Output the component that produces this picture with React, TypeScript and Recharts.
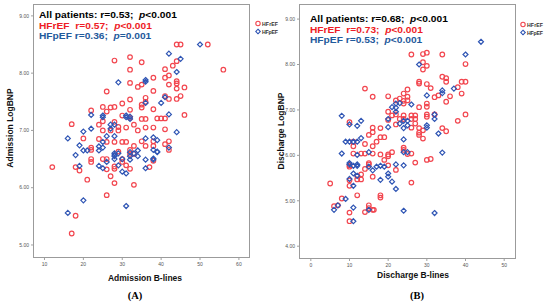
import React from 'react';
import { ScatterChart, Scatter, XAxis, YAxis } from 'recharts';

// ---- Panel A: Admission ----
const admissionHFrEF: number[][] = [
  [12,6.36],[17,7.11],[17,5.2],[18,5.51],[18,6.36],[19,6.3],[20,6.86],[21,6.14],[22,7.35],[22,6.7],[22,6.66],[22,6.5],[22,6.45],
  [24,7.1],[24,6.85],[25,7.41],[25,7.16],[25,7.0],[25,6.5],[26,7.68],[26,7.33],[26,6.8],[26,6.5],[26,6.32],[26,5.87],
  [27,7.4],[27,7.0],[27,6.2],[28,8.22],[28,7.41],[28,7.15],[28,6.8],[28,6.37],[28,6.33],[28,6.08],[29,7.06],[29,7.0],[29,6.63],
  [30,7.47],[30,7.26],[30,6.8],[30,6.5],[30,6.45],[31,7.05],[31,6.39],[31,6.8],[32,8.28],[32,8.06],[32,7.83],[32,7.54],[32,7.36],
  [32,7.22],[32,6.66],[32,6.59],[32,6.33],[33,6.73],[33,7.1],[33,6.59],[33,6.05],[34,7.76],[34,7.0],[35,8.19],[35,7.8],[35,7.45],
  [35,7.4],[35,7.2],[35,6.81],[36,7.57],[36,7.5],[36,7.2],[36,7.05],[36,6.73],[37,6.36],[38,7.92],[38,7.69],[38,7.37],[38,7.05],
  [38,6.81],[38,6.73],[38,6.47],[39,7.21],[40,7.21],[41,8.07],[41,7.92],[41,7.6],[41,7.21],[41,7.02],[41,6.76],[42,7.8],[42,7.55],
  [42,7.96],[42,6.81],[42,6.66],[43,8.13],[44,8.5],[44,8.21],[44,7.86],[44,7.82],[44,7.73],[44,7.55],[45,8.5],[45,7.6],[46,7.75],
  [46,7.27],[52,8.5],[56,8.06],
];
const admissionHFpEF: number[][] = [
  [16,6.86],[16,5.56],[18,6.57],[19,6.74],[19,6.38],[20,6.98],[20,6.65],[20,5.78],[21,6.65],[22,7.27],[22,7.03],[24,6.72],[24,6.65],
  [24,6.38],[25,7.26],[25,7.23],[25,6.8],[25,6.7],[25,6.34],[26,6.45],[26,6.9],[27,7.1],[27,7.03],[28,6.9],[28,7.1],[28,6.6],
  [28,6.55],[28,6.5],[28,6.57],[29,7.84],[29,6.39],[29,6.6],[30,6.28],[30,6.5],[31,7.23],[31,7.26],[31,6.25],[31,5.68],[32,7.24],
  [32,7.2],[32,6.55],[32,6.49],[32,6.62],[33,6.6],[34,6.65],[34,6.55],[36,7.88],[36,7.85],[36,7.48],[36,6.86],[36,6.49],[36,6.34],
  [38,6.88],[38,6.66],[38,6.51],[38,6.49],[39,6.83],[39,6.62],[39,6.63],[40,7.48],[41,7.58],[42,8.34],[42,7.28],[42,6.7],[44,8.02],
  [44,6.97],[45,8.25],[50,8.5],
];
const admissionXTicks = [10, 20, 30, 40, 50, 60];
const admissionYTicks = [5, 6, 7, 8, 9];

// ---- Panel B: Discharge ----
const dischargeHFrEF: number[][] = [
  [5,5.38],[6,4.88],[7,4.9],[8,5.05],[10,6.73],[10,5.78],[10,5.75],[10,5.45],[10,5.33],[10,4.74],[10,4.55],[11,6.04],[11,6.3],
  [11,6.2],[12,5.55],[12,5.47],[12,5.12],[13,6.04],[13,5.58],[13,5.47],[14,7.47],[14,6.04],[14,5.7],[14,6.25],[14,4.75],[15,6.45],
  [15,5.83],[15,5.8],[15,4.9],[15,4.84],[16,7.29],[16,6.61],[16,6.51],[16,6.04],[16,6.2],[16,5.53],[16,4.8],[16.3,4.8],[17,6.3],
  [18,6.6],[18,6.4],[18,6.02],[18,5.12],[18,5.07],[19,6.4],[19,5.9],[20,7.3],[20,6.02],[20,5.98],[20,5.78],[20,6.96],[20,6.78],
  [21,6.88],[21,6.07],[22,7.21],[22,6.9],[22,6.68],[22,5.68],[23,7.25],[23,6.8],[24,7.36],[24,7.2],[24,7.14],[24,6.88],[24,6.8],
  [24,6.17],[24,6.12],[25,7.45],[25,7.29],[25,7.21],[25,6.03],[26,8.22],[26,6.88],[26,6.8],[26,6.61],[26,6.04],[26,5.4],[27,6.88],
  [27,6.8],[27,6.7],[27,5.84],[28,7.62],[28,7.58],[28,7.06],[28,6.6],[28,6.5],[28,6.45],[29,8.23],[29,8.05],[29,7.89],[29,6.55],
  [29,6.37],[30,8.26],[30,7.97],[30,7.57],[30,7.14],[30,7.07],[30,6.9],[30,6.85],[30,5.9],[31,7.48],[31,5.92],[32,7.28],[32,6.9],
  [33,7.32],[34,8.22],[34,7.73],[34,6.6],[35,7.7],[35,7.62],[35,7.18],[35,6.53],[36,7.3],[38,7.5],[38,6.76],[39,7.62],[39,7.36],
  [40,8.01],[40,7.62],[40,6.9],
];
const dischargeHFpEF: number[][] = [
  [6,4.8],[7,4.9],[8,6.87],[8,6.04],[9,6.3],[9,5.04],[10,6.68],[10,6.3],[10,5.83],[10,5.8],[10,5.48],[11,6.3],[11,5.77],[11,5.6],
  [11,5.33],[11,4.85],[11,4.55],[12,6.65],[12,6.3],[12,6.01],[12,5.8],[12,5.77],[12,5.55],[13,6.76],[13,6.38],[15,6.07],[15,5.75],
  [15,4.8],[16,5.67],[17,5.75],[18,5.77],[18,5.46],[19,5.75],[20,6.8],[20,6.62],[20,5.6],[20,5.53],[21,5.42],[21,7.06],[22,7.14],
  [22,7.05],[22,6.96],[22,5.8],[22,5.26],[23,7.15],[23,6.7],[24,6.76],[24,6.6],[24,6.35],[24,6.07],[24,5.78],[24,4.78],[25,6.76],
  [25,6.66],[25,6.07],[26,7.12],[28,8.0],[30,7.32],[30,6.66],[30,6.61],[32,6.9],[32,6.8],[32,4.73],[33,6.48],[34,7.43],[34,7.37],
  [34,6.06],[37,7.47],[40,8.22],[44,8.5],
];
const dischargeXTicks = [0, 10, 20, 30, 40, 50];
const dischargeYTicks = [4, 5, 6, 7, 8, 9];

const RED = '#f2464f';
const BLUE = '#2f55b4';
const TXT_RED = '#ee1c25';
const TXT_BLUE = '#1f5a9c';
const FONT = '"Liberation Sans", Arial, sans-serif';

const toPts = (arr: number[][]) => arr.map(([x, y]) => ({ x, y }));

const CircleShape = (props: any) => {
  const { cx, cy } = props;
  if (cx == null || cy == null) return null;
  return <circle cx={cx} cy={cy} r={2.3} fill="none" stroke={RED} strokeWidth={1.2} />;
};
const DiamondShape = (props: any) => {
  const { cx, cy } = props;
  if (cx == null || cy == null) return null;
  const r = 2.5;
  return (
    <polygon
      points={`${cx},${cy - r} ${cx + r},${cy} ${cx},${cy + r} ${cx - r},${cy}`}
      fill="none"
      stroke={BLUE}
      strokeWidth={1.2}
    />
  );
};

const tickStyle = { fontSize: 5, fill: '#555', fontFamily: FONT };

function Panel(props: {
  left: number; width: number; plotLeft: number; plotRight: number; plotTop: number; plotBottom: number;
  red: number[][]; blue: number[][]; xDomain: number[]; yDomain: number[]; xTicks: number[]; yTicks: number[];
}) {
  const { left, width, plotLeft, plotRight, plotTop, plotBottom } = props;
  const yAxisW = plotLeft - left;
  const xAxisH = 14;
  return (
    <div style={{ position: 'absolute', left, top: 0, width, height: 304 }}>
      <ScatterChart
        width={width}
        height={304}
        margin={{ top: plotTop, right: left + width - plotRight, bottom: 304 - plotBottom - xAxisH, left: 0 }}
      >
        <XAxis
          type="number"
          dataKey="x"
          domain={props.xDomain}
          ticks={props.xTicks}
          allowDataOverflow
          axisLine={false}
          tickLine={{ stroke: '#888', strokeWidth: 0.8 }}
          tickSize={3}
          height={xAxisH}
          tick={tickStyle}
          interval={0}
        />
        <YAxis
          type="number"
          dataKey="y"
          domain={props.yDomain}
          ticks={props.yTicks}
          allowDataOverflow
          axisLine={false}
          tickLine={{ stroke: '#888', strokeWidth: 0.8 }}
          tickSize={3}
          width={yAxisW}
          tick={tickStyle}
          tickFormatter={(v: number) => v.toFixed(2)}
          interval={0}
        />
        <Scatter data={toPts(props.red)} shape={CircleShape} isAnimationActive={false} />
        <Scatter data={toPts(props.blue)} shape={DiamondShape} isAnimationActive={false} />
      </ScatterChart>
      <div
        style={{
          position: 'absolute',
          left: plotLeft - left - 1,
          top: plotTop - 1,
          width: plotRight - plotLeft,
          height: plotBottom - plotTop,
          border: '1.5px solid #9b9b9b',
          pointerEvents: 'none',
        }}
      />
    </div>
  );
}

function Stats(props: { left: number; top: number; all: string; fr: [string, string]; fp: [string, string] }) {
  const line: React.CSSProperties = { height: 10.5, lineHeight: '10.5px', whiteSpace: 'nowrap' };
  return (
    <div
      style={{
        position: 'absolute', left: props.left, top: props.top, fontFamily: FONT, fontWeight: 'bold', fontSize: 8.5,
        transform: 'scaleX(1.2)', transformOrigin: 'left top',
      }}
    >
      <div style={{ ...line, color: '#000' }}>All patients: {props.all};&nbsp; <i>p</i>&lt;0.001</div>
      <div style={{ ...line, color: TXT_RED }}>HFrEF&nbsp; {props.fr[0]};&nbsp; <i>p</i>{props.fr[1]}</div>
      <div style={{ ...line, color: TXT_BLUE }}>HFpEF {props.fp[0]};&nbsp; <i>p</i>{props.fp[1]}</div>
    </div>
  );
}

function LegendBox(props: { left: number; top: number }) {
  return (
    <svg style={{ position: 'absolute', left: props.left, top: props.top }} width={30} height={16}>
      <circle cx={3} cy={3.5} r={2.2} fill="none" stroke={RED} strokeWidth={1.1} />
      <text x={7} y={5.5} fontSize={5.2} fontWeight="bold" fontFamily={FONT} fill="#333" textLength={16}>HFrEF</text>
      <polygon points="3,9.2 5.3,11.5 3,13.8 0.7,11.5" fill="none" stroke={BLUE} strokeWidth={1.1} />
      <text x={7} y={13.5} fontSize={5.2} fontWeight="bold" fontFamily={FONT} fill="#333" textLength={16}>HFpEF</text>
    </svg>
  );
}

export default function App() {
  const axisLabel: React.CSSProperties = {
    position: 'absolute', fontFamily: FONT, fontWeight: 'bold', fontSize: 8.5, color: '#111', whiteSpace: 'nowrap',
  };
  return (
    <div style={{ position: 'absolute', left: 0, top: 0, width: 550, height: 304, background: '#fff', overflow: 'hidden' }}>
      <Panel
        left={0} width={275} plotLeft={34} plotRight={249} plotTop={5} plotBottom={257}
        red={admissionHFrEF} blue={admissionHFpEF}
        xDomain={[7.3, 62.6]} yDomain={[4.79, 9.19]} xTicks={admissionXTicks} yTicks={admissionYTicks}
      />
      <Panel
        left={275} width={275} plotLeft={300} plotRight={515} plotTop={5} plotBottom={258}
        red={dischargeHFrEF} blue={dischargeHFpEF}
        xDomain={[-2.8, 52.8]} yDomain={[3.74, 9.31]} xTicks={dischargeXTicks} yTicks={dischargeYTicks}
      />
      <Stats left={39} top={10} all="r=0.53" fr={['r=0.57', '<0.001']} fp={['r=0.36', '=0.001']} />
      <Stats left={310} top={14} all="r=0.68" fr={['r=0.73', '<0.001']} fp={['r=0.53', '<0.001']} />
      <LegendBox left={255} top={20} />
      <LegendBox left={520} top={21} />
      <div style={{ ...axisLabel, left: 10, top: 128, transform: 'translate(-50%,-50%) rotate(-90deg)' }}>Admission LogBNP</div>
      <div style={{ ...axisLabel, left: 281, top: 131, transform: 'translate(-50%,-50%) rotate(-90deg)' }}>Discharge LogBNP</div>
      <div style={{ ...axisLabel, left: 145, top: 278, transform: 'translate(-50%,-50%)' }}>Admission B-lines</div>
      <div style={{ ...axisLabel, left: 413, top: 275, transform: 'translate(-50%,-50%)' }}>Discharge B-lines</div>
      <div style={{ position: 'absolute', left: 135, top: 295, transform: 'translate(-50%,-50%)', fontFamily: '"Liberation Serif", "Times New Roman", serif', fontSize: 10.5, fontWeight: 'bold' }}>(A)</div>
      <div style={{ position: 'absolute', left: 417, top: 295, transform: 'translate(-50%,-50%)', fontFamily: '"Liberation Serif", "Times New Roman", serif', fontSize: 10.5, fontWeight: 'bold' }}>(B)</div>
    </div>
  );
}
